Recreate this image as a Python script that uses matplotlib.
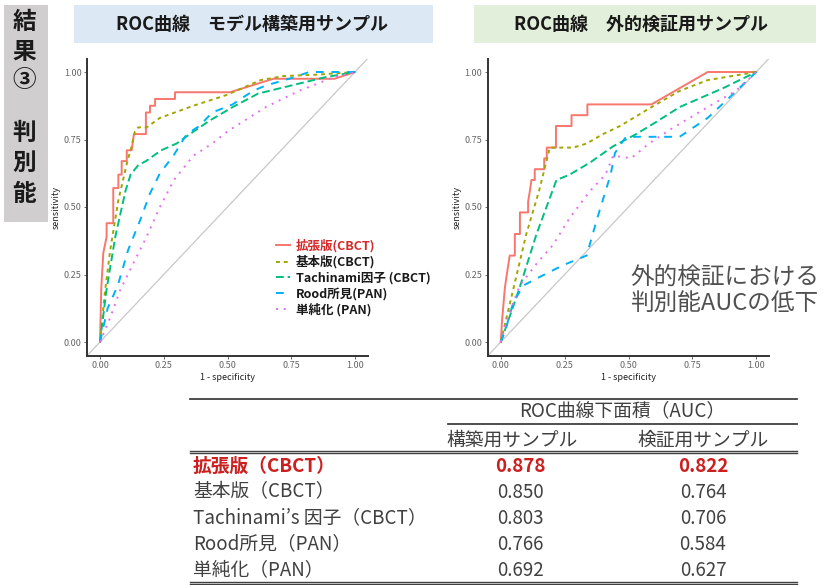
import matplotlib
matplotlib.use("Agg")
import matplotlib.pyplot as plt
from matplotlib.patches import Rectangle
from matplotlib.lines import Line2D

plt.rcParams['font.family'] = ['Noto Sans CJK JP', 'DejaVu Sans']

W, H = 823, 585

# legend labels / ggplot default hue colours and linetypes
labels = ['拡張版(CBCT)', '基本版(CBCT)', 'Tachinami因子 (CBCT)', 'Rood所見(PAN)', '単純化 (PAN)']
colors = ['#F8766D', '#A3A500', '#00BF7D', '#00B0F6', '#E76BF3']
dashes = [None, (2, 2), (4, 2), (4, 4), (1, 3)]

# ---- ROC curves, model building sample (1-specificity, sensitivity)
dev_ext_x = [0, 0.005, 0.013, 0.026, 0.026, 0.052, 0.052, 0.072, 0.072, 0.085, 0.085, 0.105, 0.105, 0.124,
             0.133, 0.18, 0.18, 0.196, 0.196, 0.216, 0.216, 0.294, 0.294, 0.51, 0.68, 0.92, 1.0]
dev_ext_y = [0, 0.2, 0.33, 0.39, 0.44, 0.44, 0.57, 0.57, 0.62, 0.62, 0.67, 0.67, 0.71, 0.71,
             0.77, 0.77, 0.85, 0.85, 0.875, 0.875, 0.90, 0.90, 0.925, 0.925, 0.975, 0.975, 1.0]
dev_basic_x = [0, 0.02, 0.04, 0.072, 0.105, 0.124, 0.137, 0.15, 0.183, 0.235, 0.366, 0.497, 0.63, 0.72, 0.85, 1.0]
dev_basic_y = [0, 0.19, 0.34, 0.525, 0.66, 0.725, 0.78, 0.795, 0.795, 0.83, 0.875, 0.915, 0.97, 0.985, 0.99, 1.0]
dev_tach_x = [0, 0.025, 0.06, 0.1, 0.12, 0.15, 0.18, 0.24, 0.30, 0.36, 0.43, 0.52, 0.62, 0.75, 0.88, 1.0]
dev_tach_y = [0, 0.19, 0.39, 0.56, 0.62, 0.655, 0.67, 0.71, 0.735, 0.775, 0.82, 0.87, 0.92, 0.95, 0.98, 1.0]
dev_rood_x = [0, 0.03, 0.07, 0.11, 0.157, 0.196, 0.235, 0.288, 0.34, 0.39, 0.44, 0.52, 0.60, 0.65, 0.76, 0.82, 1.0]
dev_rood_y = [0, 0.125, 0.21, 0.34, 0.45, 0.55, 0.625, 0.69, 0.77, 0.80, 0.85, 0.88, 0.93, 0.95, 0.98, 1.0, 1.0]
dev_simple_x = [0, 0.04, 0.078, 0.13, 0.183, 0.235, 0.29, 0.366, 0.44, 0.50, 0.60, 0.65, 0.78, 0.915, 1.0]
dev_simple_y = [0, 0.09, 0.19, 0.29, 0.39, 0.5, 0.6, 0.69, 0.735, 0.78, 0.84, 0.87, 0.93, 0.98, 1.0]

# ---- ROC curves, external validation sample
val_ext_x = [0, 0.005, 0.016, 0.022, 0.035, 0.055, 0.055, 0.075, 0.075, 0.107, 0.107, 0.114, 0.12, 0.133,
             0.133, 0.17, 0.17, 0.18, 0.18, 0.216, 0.216, 0.277, 0.277, 0.339, 0.339, 0.59, 0.81, 1.0]
val_ext_y = [0, 0.08, 0.2, 0.24, 0.32, 0.32, 0.40, 0.40, 0.48, 0.48, 0.52, 0.56, 0.60, 0.60,
             0.64, 0.64, 0.68, 0.68, 0.72, 0.72, 0.80, 0.80, 0.84, 0.84, 0.88, 0.88, 1.0, 1.0]
val_basic_x = [0, 0.05, 0.1, 0.15, 0.192, 0.284, 0.336, 0.40, 0.467, 0.59, 0.70, 0.81, 1.0]
val_basic_y = [0, 0.2, 0.4, 0.56, 0.72, 0.72, 0.735, 0.77, 0.80, 0.87, 0.93, 0.97, 1.0]
val_tach_x = [0, 0.07, 0.14, 0.218, 0.27, 0.35, 0.44, 0.53, 0.60, 0.70, 0.87, 1.0]
val_tach_y = [0, 0.19, 0.40, 0.60, 0.62, 0.665, 0.725, 0.77, 0.81, 0.87, 0.94, 1.0]
val_rood_x = [0, 0.02, 0.05, 0.09, 0.14, 0.245, 0.336, 0.375, 0.43, 0.447, 0.49, 0.70, 0.81, 0.90, 1.0]
val_rood_y = [0, 0.05, 0.15, 0.21, 0.235, 0.285, 0.32, 0.45, 0.62, 0.70, 0.76, 0.76, 0.83, 0.91, 1.0]
val_simple_x = [0, 0.03, 0.075, 0.14, 0.205, 0.27, 0.35, 0.41, 0.44, 0.48, 0.51, 0.58, 0.66, 0.81, 0.92, 1.0]
val_simple_y = [0, 0.1, 0.21, 0.29, 0.36, 0.46, 0.56, 0.62, 0.69, 0.685, 0.68, 0.735, 0.785, 0.87, 0.93, 1.0]

ticks = [0, 0.25, 0.5, 0.75, 1.0]
tick_labels = ['0.00', '0.25', '0.50', '0.75', '1.00']

# ---- AUC table
table_rows = ['拡張版（CBCT）', '基本版（CBCT）', 'Tachinami’s 因子（CBCT）', 'Rood所見（PAN）', '単純化（PAN）']
auc_dev = [0.878, 0.850, 0.803, 0.766, 0.692]
auc_val = [0.822, 0.764, 0.706, 0.584, 0.627]


def fx(x):
    return x / W


def fy(y):
    return 1 - y / H


fig = plt.figure(figsize=(W / 100, H / 100), dpi=100)


def box(x0, y0, x1, y1, color):
    fig.add_artist(Rectangle((fx(x0), fy(y1)), fx(x1) - fx(x0), fy(y0) - fy(y1),
                             transform=fig.transFigure, facecolor=color, edgecolor='none'))


def hline(x0, x1, y, lw=1.3):
    fig.add_artist(Line2D([fx(x0), fx(x1)], [fy(y), fy(y)], transform=fig.transFigure,
                          color='#404040', lw=lw))


# side label
box(4, 5, 48, 222, '#d0cece')
for ch, yy in zip(['結', '果', '③', '判', '別', '能'], [22, 52, 80, 133, 163, 194]):
    fig.text(fx(24), fy(yy), ch, ha='center', va='center', fontsize=17, fontweight='bold', color='#1a1a1a')

# title boxes
box(74, 5, 433, 43, '#dce8f4')
fig.text(fx(252), fy(24), 'ROC曲線　モデル構築用サンプル', ha='center', va='center', fontsize=13,
         fontweight='bold', color='#1a1a1a')
box(474, 5, 816, 43, '#e2efda')
fig.text(fx(641), fy(24), 'ROC曲線　外的検証用サンプル', ha='center', va='center', fontsize=13,
         fontweight='bold', color='#1a1a1a')


def roc_panel(x0, x1, curves):
    ax = fig.add_axes([fx(x0), fy(355.5), fx(x1) - fx(x0), fy(58.5) - fy(355.5)])
    ax.set_xlim(-0.05, 1.05)
    ax.set_ylim(-0.05, 1.05)
    ax.plot([-0.05, 1.05], [-0.05, 1.05], color='#c8c8c8', lw=0.9, zorder=1)
    handles = []
    for (xs, ys), c, d, lab in zip(curves, colors, dashes, labels):
        ln, = ax.plot(xs, ys, color=c, lw=1.4, label=lab, zorder=2)
        if d is not None:
            ln.set_dashes(d)
        handles.append(ln)
    for s in ['top', 'right']:
        ax.spines[s].set_visible(False)
    for s in ['left', 'bottom']:
        ax.spines[s].set_color('#333333')
        ax.spines[s].set_linewidth(1.4)
    ax.set_xticks(ticks)
    ax.set_xticklabels(tick_labels)
    ax.set_yticks(ticks)
    ax.set_yticklabels(tick_labels)
    ax.tick_params(labelsize=6.5, labelcolor='#666666', color='#555555', length=2, width=0.6, pad=2)
    ax.set_xlabel('1 - specificity', fontsize=6.5, color='#222222', labelpad=2)
    ax.set_ylabel('sensitivity', fontsize=6.5, color='#222222', labelpad=2)
    return ax, handles


ax1, h1 = roc_panel(87.25, 367.75, [(dev_ext_x, dev_ext_y), (dev_basic_x, dev_basic_y),
                                     (dev_tach_x, dev_tach_y), (dev_rood_x, dev_rood_y),
                                     (dev_simple_x, dev_simple_y)])
ax2, h2 = roc_panel(488, 769, [(val_ext_x, val_ext_y), (val_basic_x, val_basic_y),
                               (val_tach_x, val_tach_y), (val_rood_x, val_rood_y),
                               (val_simple_x, val_simple_y)])

leg = fig.legend(handles=h1, labels=labels, loc='upper left', bbox_to_anchor=(fx(270), fy(233)),
                 frameon=False, prop={'size': 9, 'weight': 'bold'}, handlelength=1.1,
                 handletextpad=0.45, labelspacing=0.22, borderpad=0)
for i, t in enumerate(leg.get_texts()):
    t.set_color('#d42a2a' if i == 0 else '#1a1a1a')

fig.text(fx(630), fy(291), '外的検証における\n判別能AUCの低下', ha='left', va='center', fontsize=17,
         color='#505050', linespacing=1.1)

# table
hline(190, 797, 399)
fig.text(fx(622), fy(411), 'ROC曲線下面積（AUC）', ha='center', va='center', fontsize=13.5, color='#404040')
hline(448, 797, 424)
fig.text(fx(512), fy(440), '構築用サンプル', ha='center', va='center', fontsize=13.5, color='#404040')
fig.text(fx(703), fy(440), '検証用サンプル', ha='center', va='center', fontsize=13.5, color='#404040')
hline(190, 797, 450.5, lw=1.0)
hline(190, 797, 453, lw=1.0)
row_y = [466, 492, 518, 544, 570]
for i, (name, a, b) in enumerate(zip(table_rows, auc_dev, auc_val)):
    if i == 0:
        kw = dict(color='#cc1f1f', fontweight='bold')
    else:
        kw = dict(color='#404040')
    fig.text(fx(193), fy(row_y[i]), name, ha='left', va='center', fontsize=13.5, **kw)
    fig.text(fx(520), fy(row_y[i]), '%.3f' % a, ha='center', va='center', fontsize=13.5, **kw)
    fig.text(fx(703), fy(row_y[i]), '%.3f' % b, ha='center', va='center', fontsize=13.5, **kw)
hline(190, 797, 581.5, lw=1.0)
hline(190, 797, 584, lw=1.0)

fig.savefig('out.png', dpi=100)
